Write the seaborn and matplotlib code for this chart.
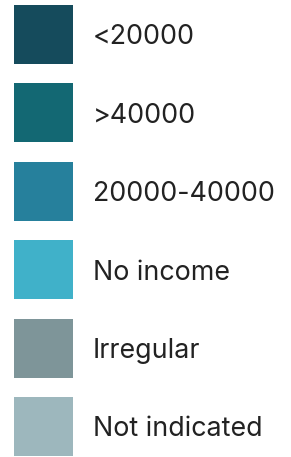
import matplotlib
matplotlib.use("Agg")
import matplotlib.pyplot as plt
import seaborn as sns
import pandas as pd

categories = ["<20000", ">40000", "20000-40000", "No income", "Irregular", "Not indicated"]
colors = ["#154B5C", "#136873", "#26809C", "#40B1C9", "#7E9599", "#9DB7BD"]

df = pd.DataFrame({"category": categories, "pos": range(len(categories)), "x": 43.5})

sns.set_style("white")
plt.rcParams['font.family'] = ['Inter', 'DejaVu Sans']

fig = plt.figure(figsize=(2.91, 4.57), dpi=100)
ax = fig.add_axes([0, 0, 1, 1])

sns.scatterplot(data=df, x="x", y="pos", hue="category", palette=colors,
                marker="s", s=42.5 ** 2, linewidth=0, legend=False, ax=ax)

for _, row in df.iterrows():
    ax.text(93, row["pos"], row["category"], fontsize=19.3, color="#222222",
            va="center_baseline", ha="left")

ax.set_xlim(0, 291)
ax.set_ylim(5.39, -0.44)
ax.axis("off")

fig.savefig("out.png", dpi=100)
